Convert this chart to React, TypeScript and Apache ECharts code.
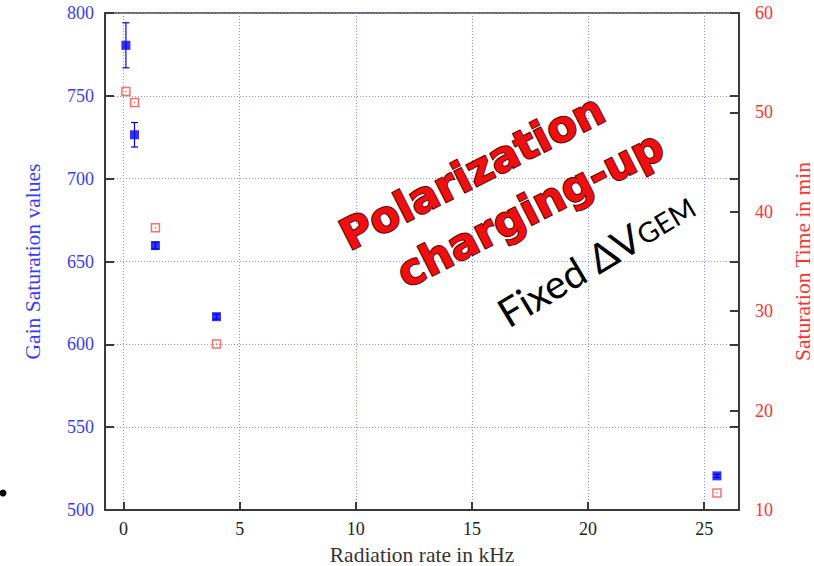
import React, { useEffect, useRef } from "react";
import * as echarts from "echarts";

// Data
const rateKHz = [0.1, 0.47, 1.37, 4.0, 25.55];
const gainSaturation = [780.5, 726.5, 659.6, 616.7, 520.6];
const gainError = [13.6, 7.4, 2.0, 1.5, 1.0];
const saturationTimeMin = [52.1, 51.0, 38.4, 26.7, 11.7];

const xTitle = "Radiation rate in kHz";
const yLeftTitle = "Gain Saturation values";
const yRightTitle = "Saturation Time in min";

const BLUE = "#0000f0";
const BLUE_TXT = "#3a3aff";
const RED = "#ff3030";
const RED_MK = "#ff4a4a";
const AXIS = "#3a3a3a";
const GRID = "#8c8cff";
const SERIF = "'Liberation Serif', 'Times New Roman', serif";

export default function App() {
  const ref = useRef<HTMLDivElement>(null);

  useEffect(() => {
    document.body.style.margin = "0";
    const chart = echarts.init(ref.current!, undefined, { renderer: "svg" });

    const gainPts = rateKHz.map((x, i) => [x, gainSaturation[i]]);
    const errPts = rateKHz.map((x, i) => [x, gainSaturation[i] - gainError[i], gainSaturation[i] + gainError[i]]);
    const timePts = rateKHz.map((x, i) => [x, saturationTimeMin[i]]);

    const redText = (text: string, x: number, y: number) => ({
      type: "text",
      x,
      y,
      rotation: (27 * Math.PI) / 180,
      z: 10,
      style: {
        text,
        font: "bold 43px 'DejaVu Sans', Verdana, sans-serif",
        fill: "#ee1010",
        stroke: "#5a0000",
        lineWidth: 2,
        align: "center",
        verticalAlign: "middle",
        shadowColor: "rgba(50,0,0,0.7)",
        shadowOffsetX: 2,
        shadowOffsetY: 3,
        shadowBlur: 3,
      },
    });

    chart.setOption({
      animation: false,
      backgroundColor: "#ffffff",
      grid: {
        left: 105,
        right: 75,
        top: 13,
        bottom: 56,
        outerBoundsMode: "none",
        containLabel: false,
        show: true,
        borderColor: AXIS,
        borderWidth: 1.5,
        backgroundColor: "transparent",
      },
      xAxis: {
        type: "value",
        min: -0.8,
        max: 26.5,
        splitNumber: 5,
        name: xTitle,
        nameLocation: "middle",
        nameGap: 34,
        nameTextStyle: { fontFamily: SERIF, fontSize: 21.5, color: "#333" },
        axisLine: { show: true, onZero: false, lineStyle: { color: AXIS, width: 2 } },
        axisTick: { show: true, inside: true, length: 8, lineStyle: { color: AXIS, width: 2 } },
        axisLabel: {
          showMinLabel: false,
          showMaxLabel: false,
          margin: 10,
          fontFamily: SERIF,
          fontSize: 18,
          color: "#222",
        },
        splitLine: { show: true, lineStyle: { color: GRID, type: [1, 2], width: 1 } },
      },
      yAxis: [
        {
          type: "value",
          min: 500,
          max: 800,
          interval: 50,
          position: "left",
          name: yLeftTitle,
          nameLocation: "middle",
          nameGap: 61,
          nameTextStyle: { fontFamily: SERIF, fontSize: 21.5, color: BLUE_TXT },
          axisLine: { show: true, onZero: false, lineStyle: { color: AXIS, width: 2 } },
          axisTick: { show: true, inside: true, length: 9, lineStyle: { color: AXIS, width: 2 } },
          axisLabel: { margin: 11, fontFamily: SERIF, fontSize: 18, color: BLUE_TXT },
          splitLine: { show: true, lineStyle: { color: GRID, type: [1, 2], width: 1 } },
        },
        {
          type: "value",
          min: 10,
          max: 60,
          interval: 10,
          position: "right",
          name: yRightTitle,
          nameLocation: "middle",
          nameGap: 53,
          nameTextStyle: { fontFamily: SERIF, fontSize: 21.5, color: RED },
          axisLine: { show: true, onZero: false, lineStyle: { color: AXIS, width: 2 } },
          axisTick: { show: true, inside: true, length: 9, lineStyle: { color: AXIS, width: 2 } },
          axisLabel: { margin: 16, fontFamily: SERIF, fontSize: 18, color: RED },
          splitLine: { show: false },
        },
        {
          type: "value",
          min: 500,
          max: 800,
          interval: 50,
          position: "right",
          offset: 0,
          axisLine: { show: false, onZero: false },
          axisTick: { show: true, inside: true, length: 9, lineStyle: { color: AXIS, width: 2 } },
          axisLabel: { show: false },
          splitLine: { show: false },
        },
      ],
      series: [
        {
          type: "custom",
          name: "gain error",
          yAxisIndex: 0,
          data: errPts,
          encode: { x: 0, y: [1, 2] },
          renderItem: (params: any, api: any) => {
            const x = api.value(0);
            const lo = api.coord([x, api.value(1)]);
            const hi = api.coord([x, api.value(2)]);
            const w = 3.5;
            const st = { stroke: BLUE, lineWidth: 1.2 };
            return {
              type: "group",
              children: [
                { type: "line", shape: { x1: hi[0], y1: hi[1], x2: lo[0], y2: lo[1] }, style: st },
                { type: "line", shape: { x1: hi[0] - w, y1: hi[1], x2: hi[0] + w, y2: hi[1] }, style: st },
                { type: "line", shape: { x1: lo[0] - w, y1: lo[1], x2: lo[0] + w, y2: lo[1] }, style: st },
              ],
            };
          },
          z: 3,
        },
        {
          type: "scatter",
          name: yLeftTitle,
          yAxisIndex: 0,
          data: gainPts,
          symbol: "rect",
          symbolSize: [9, 9],
          itemStyle: { color: BLUE },
          z: 4,
        },
        {
          type: "scatter",
          name: yRightTitle,
          yAxisIndex: 1,
          data: timePts,
          symbol: "rect",
          symbolSize: [8, 8],
          itemStyle: { color: "rgba(255,255,255,0)", borderColor: RED_MK, borderWidth: 1.5 },
          z: 4,
        },
        {
          type: "scatter",
          name: yRightTitle + " centre",
          yAxisIndex: 1,
          data: timePts,
          symbol: "rect",
          symbolSize: [1.5, 1.5],
          itemStyle: { color: RED_MK },
          z: 4,
        },
      ],
      graphic: [
        redText("Polarization", 472, 172),
        redText("charging-up", 530, 209),
        {
          type: "text",
          x: 596,
          y: 259,
          rotation: (31 * Math.PI) / 180,
          z: 10,
          style: {
            text: "{a|Fixed ΔV}{b|GEM}",
            align: "center",
            verticalAlign: "middle",
            rich: {
              a: { fontFamily: "Lato, 'Open Sans', sans-serif", fontSize: 40, fill: "#000", color: "#000" },
              b: { fontFamily: "Lato, 'Open Sans', sans-serif", fontSize: 28, fill: "#000", color: "#000", verticalAlign: "bottom", padding: [0, 0, 3, 0] },
            },
          },
        },
        {
          type: "circle",
          shape: { cx: 3, cy: 493, r: 3.5 },
          style: { fill: "#000" },
        },
      ],
    });

    return () => chart.dispose();
  }, []);

  return (
    <div
      ref={ref}
      style={{ position: "absolute", left: 0, top: 0, width: 814, height: 566 }}
    />
  );
}
